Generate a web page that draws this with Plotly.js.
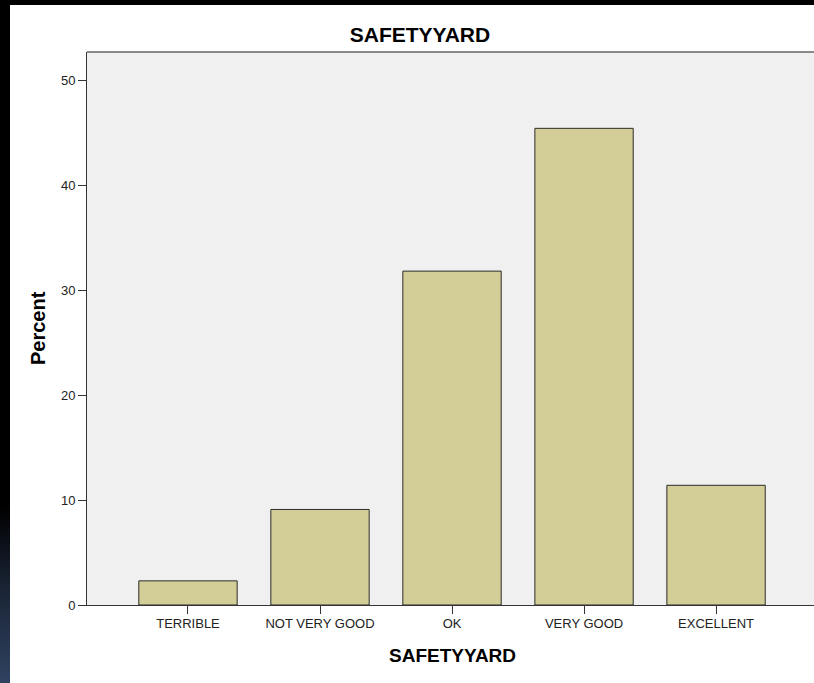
<!DOCTYPE html>
<html>
<head>
<meta charset="utf-8">
<script src="https://cdn.plot.ly/plotly-3.0.1.min.js"></script>
<style>
html, body { margin: 0; padding: 0; width: 814px; height: 683px; overflow: hidden; }
body { background: linear-gradient(to bottom, #000 0px, #000 505px, #1a2436 590px, #2f4260 683px); }
#chart { position: absolute; left: 10px; top: 5px; width: 804px; height: 678px; background: #fff; }
</style>
</head>
<body>
<div id="chart"></div>
<script>
const categories = ["TERRIBLE", "NOT VERY GOOD", "OK", "VERY GOOD", "EXCELLENT"];
const percents = [2.3, 9.1, 31.8, 45.4, 11.4];
const yTicks = [0, 10, 20, 30, 40, 50];
const chartTitle = "SAFETYYARD";
const xTitle = "SAFETYYARD";
const yTitle = "Percent";

const H = 678, W = 804;
const trace = {
  type: "bar",
  x: categories,
  y: percents,
  width: 0.745,
  marker: { color: "#d3ce97", line: { color: "#2b2b2b", width: 1 } },
  hoverinfo: "none"
};

const layout = {
  width: W, height: H,
  margin: { l: 77, r: 0, t: 47, b: 78 },
  paper_bgcolor: "#ffffff",
  plot_bgcolor: "#f0f0f0",
  showlegend: false,
  font: { family: "Liberation Sans, Arial, sans-serif", color: "#000" },
  title: {
    text: "<b>" + chartTitle + "</b>",
    font: { size: 21, family: "Liberation Sans, Arial, sans-serif", color: "#000" },
    x: 410 / W, xref: "container", xanchor: "center",
    y: 1 - 30 / H, yref: "container", yanchor: "middle"
  },
  xaxis: {
    type: "category",
    range: [-0.765, 4.742],
    showline: true, linecolor: "#333", linewidth: 1,
    ticks: "outside", ticklen: 8, tickcolor: "#333", tickwidth: 1,
    ticklabelstandoff: -2,
    tickfont: { size: 13, color: "#222" },
    showgrid: false, zeroline: false, mirror: false,
    fixedrange: true
  },
  yaxis: {
    range: [0, 52.67],
    tickvals: yTicks,
    showline: true, linecolor: "#333", linewidth: 1,
    ticks: "outside", ticklen: 8, tickcolor: "#333", tickwidth: 1,
    tickfont: { size: 13, color: "#222" },
    showgrid: false, zeroline: false,
    fixedrange: true
  },
  shapes: [
    { type: "line", xref: "paper", yref: "paper", x0: 0, x1: 1, y0: 1, y1: 1,
      line: { color: "#8a8a8a", width: 2 } }
  ],
  annotations: [
    { text: "<b>" + xTitle + "</b>", xref: "paper", yref: "paper",
      x: (452 - 87) / (W - 77), y: -50 / (H - 125), xanchor: "center", yanchor: "middle",
      showarrow: false, font: { size: 19, color: "#000" } },
    { text: "<b>" + yTitle + "</b>", xref: "paper", yref: "paper",
      x: -49 / (W - 77), y: (605 - 328) / (605 - 52), xanchor: "center", yanchor: "middle",
      textangle: -90, showarrow: false, font: { size: 20, color: "#000" } }
  ]
};

Plotly.newPlot("chart", [trace], layout, { displayModeBar: false, staticPlot: true });
</script>
</body>
</html>
